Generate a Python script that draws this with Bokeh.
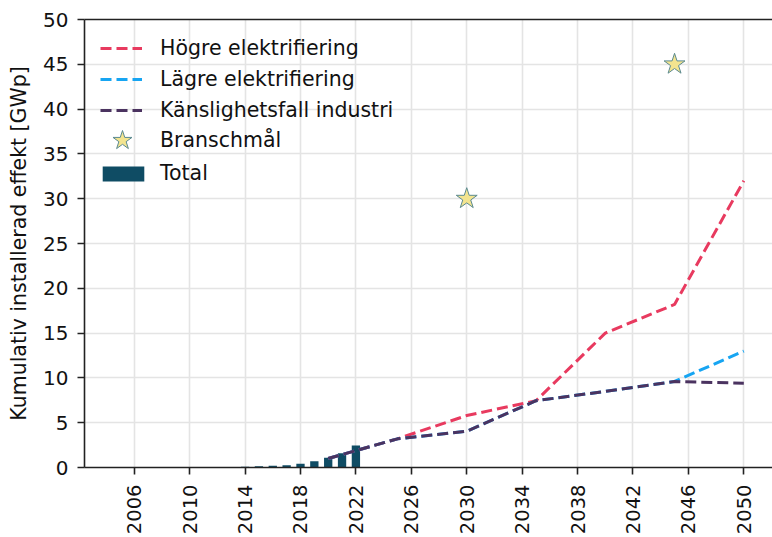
import math

from bokeh.plotting import figure
from bokeh.models import (ColumnDataSource, Range1d, FixedTicker, LinearAxis,
                          Legend, LegendItem)
from bokeh.embed import file_html
from bokeh.resources import INLINE

# Historical cumulative installed PV capacity (GWp)
bar_years = [2005, 2006, 2007, 2008, 2009, 2010, 2011, 2012, 2013,
             2014, 2015, 2016, 2017, 2018, 2019, 2020, 2021, 2022]
bar_total = [0.004, 0.005, 0.006, 0.008, 0.009, 0.011, 0.015, 0.024, 0.043,
             0.08, 0.13, 0.19, 0.25, 0.42, 0.70, 1.09, 1.60, 2.45]

# Scenario projections (GWp)
scen_years = [2020, 2025, 2030, 2035, 2040, 2045, 2050]
hogre = [1.0, 3.2, 5.8, 7.45, 15.0, 18.2, 32.0]
lagre = [1.0, 3.2, 4.05, 7.45, 8.5, 9.6, 13.0]
industri = [1.0, 3.2, 4.05, 7.45, 8.5, 9.6, 9.4]

# Industry targets
goal_years = [2030, 2045]
goal_values = [30, 45]

x_ticks = list(range(2006, 2051, 4))
y_ticks = list(range(0, 51, 5))

FONT = "DejaVu Sans"
DARK = "#222222"
RED = "#e83a5f"
BLUE = "#17a5f2"
PURPLE = "#4b3360"
BAR = "#0f4c64"

p = figure(width=772, height=537,
           x_range=Range1d(2002.41, 2052.07), y_range=Range1d(0, 50),
           output_backend="svg", toolbar_location=None,
           min_border_left=84, min_border_right=0,
           min_border_top=19, min_border_bottom=70)
p.outline_line_color = None
p.background_fill_color = "white"
p.border_fill_color = "white"

xax = p.xaxis[0]
yax = p.yaxis[0]
xax.ticker = FixedTicker(ticks=x_ticks)
yax.ticker = FixedTicker(ticks=y_ticks)
p.xgrid.ticker = FixedTicker(ticks=x_ticks)
p.ygrid.ticker = FixedTicker(ticks=y_ticks)

for ax in (xax, yax):
    ax.axis_line_color = DARK
    ax.axis_line_width = 1.6
    ax.major_tick_line_color = DARK
    ax.major_tick_line_width = 1.6
    ax.major_tick_out = 7
    ax.major_tick_in = 0
    ax.minor_tick_line_color = None
    ax.major_label_text_font = FONT
    ax.major_label_text_color = "#111111"

xax.major_label_text_font_size = "19.5px"
xax.major_label_orientation = math.pi / 2
xax.major_label_standoff = 10

yax.major_label_text_font_size = "20px"
yax.major_label_standoff = 9
yax.axis_label = "Kumulativ installerad effekt [GWp]"
yax.axis_label_text_font = FONT
yax.axis_label_text_font_size = "20.5px"
yax.axis_label_text_font_style = "normal"
yax.axis_label_text_color = "#111111"
yax.axis_label_standoff = 9

# top spine
top = LinearAxis(ticker=FixedTicker(ticks=[]), major_label_text_font_size="0px",
                 axis_line_color=DARK, axis_line_width=1.6,
                 major_tick_line_color=None, minor_tick_line_color=None)
p.add_layout(top, "above")

for g in (p.xgrid[0], p.ygrid[0]):
    g.grid_line_color = "#e4e4e4"
    g.grid_line_width = 1.6

bar_src = ColumnDataSource(dict(year=bar_years, total=bar_total))
bars = p.vbar(x="year", top="total", width=0.6, source=bar_src,
              fill_color=BAR, line_color=None)

dash = "11 5"
r_h = p.line(scen_years, hogre, line_color=RED, line_width=3, line_dash=dash)
r_l = p.line(scen_years, lagre, line_color=BLUE, line_width=3, line_dash=dash)
r_i = p.line(scen_years, industri, line_color=PURPLE, line_width=3, line_dash=dash)
stars = p.scatter(goal_years, goal_values, marker="star", size=22,
                  fill_color="#f3e48f", line_color="#5b8a90", line_width=1)

common = dict(padding=0, margin=0, border_line_color=None,
              background_fill_alpha=0, label_text_font=FONT,
              label_text_font_size="20.5px", label_text_color="#111111")

leg_lines = Legend(items=[
    LegendItem(label="Högre elektrifiering", renderers=[r_h]),
    LegendItem(label="Lägre elektrifiering", renderers=[r_l]),
    LegendItem(label="Känslighetsfall industri", renderers=[r_i]),
], location=(16, 345), glyph_width=42, glyph_height=24, label_height=24,
    spacing=7, label_standoff=18, **common)
p.add_layout(leg_lines)

leg_star = Legend(items=[LegendItem(label="Branschmål", renderers=[stars])],
                  location=(13, 302), glyph_width=50, glyph_height=50,
                  label_height=24, label_standoff=13, **common)
p.add_layout(leg_star)

leg_bar = Legend(items=[LegendItem(label="Total", renderers=[bars])],
                 location=(13, 282), glyph_width=52, glyph_height=19,
                 label_height=24, label_standoff=11, **common)
p.add_layout(leg_bar)

open("out.html", "w").write(file_html(p, INLINE))
